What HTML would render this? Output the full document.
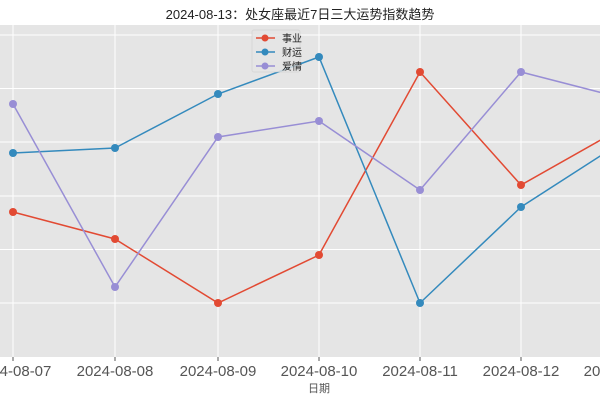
<!DOCTYPE html>
<html><head><meta charset="utf-8"><style>
body{margin:0;background:#fff;}
svg text{font-family:"Liberation Sans","Noto Sans CJK SC",sans-serif;}
</style></head><body>
<svg width="600" height="400" xmlns="http://www.w3.org/2000/svg">
<rect x="0" y="0" width="600" height="400" fill="#fff"/>
<rect x="0" y="25" width="600" height="332" fill="#E5E5E5"/>
<g stroke="#fff" stroke-width="1">
<line x1="13" y1="25" x2="13" y2="357"/><line x1="115" y1="25" x2="115" y2="357"/>
<line x1="218" y1="25" x2="218" y2="357"/><line x1="319" y1="25" x2="319" y2="357"/>
<line x1="420" y1="25" x2="420" y2="357"/><line x1="521" y1="25" x2="521" y2="357"/>
<line x1="0" y1="35" x2="600" y2="35"/><line x1="0" y1="88.5" x2="600" y2="88.5"/>
<line x1="0" y1="142" x2="600" y2="142"/><line x1="0" y1="196" x2="600" y2="196"/>
<line x1="0" y1="249.5" x2="600" y2="249.5"/><line x1="0" y1="303" x2="600" y2="303"/>
</g>
<g stroke="#555" stroke-width="1">
<line x1="13" y1="357" x2="13" y2="361"/><line x1="115" y1="357" x2="115" y2="361"/>
<line x1="218" y1="357" x2="218" y2="361"/><line x1="319" y1="357" x2="319" y2="361"/>
<line x1="420" y1="357" x2="420" y2="361"/><line x1="521" y1="357" x2="521" y2="361"/>
</g>
<g fill="none" stroke-width="1.5">
<polyline stroke="#E24A33" points="13,212 115,239 218,303 319,255 420,72 521,185 622,128"/>
<polyline stroke="#348ABD" points="13,153 115,148 218,94 319,57 420,303 521,207 622,142"/>
<polyline stroke="#988ED5" points="13,104 115,287 218,137 319,121 420,190 521,72 622,98"/>
</g>
<g fill="#E24A33"><circle cx="13" cy="212" r="4"/><circle cx="115" cy="239" r="4"/><circle cx="218" cy="303" r="4"/><circle cx="319" cy="255" r="4"/><circle cx="420" cy="72" r="4"/><circle cx="521" cy="185" r="4"/></g>
<g fill="#348ABD"><circle cx="13" cy="153" r="4"/><circle cx="115" cy="148" r="4"/><circle cx="218" cy="94" r="4"/><circle cx="319" cy="57" r="4"/><circle cx="420" cy="303" r="4"/><circle cx="521" cy="207" r="4"/></g>
<g fill="#988ED5"><circle cx="13" cy="104" r="4"/><circle cx="115" cy="287" r="4"/><circle cx="218" cy="137" r="4"/><circle cx="319" cy="121" r="4"/><circle cx="420" cy="190" r="4"/><circle cx="521" cy="72" r="4"/></g>
<rect x="252" y="30" width="48" height="42" fill="#E5E5E5" fill-opacity="0.8" stroke="#ccc" stroke-opacity="0.5" rx="2"/>
<g stroke-width="1.5">
<line x1="256" y1="38" x2="275" y2="38" stroke="#E24A33"/><circle cx="265" cy="38" r="3.5" fill="#E24A33"/>
<line x1="256" y1="52" x2="275" y2="52" stroke="#348ABD"/><circle cx="265" cy="52" r="3.5" fill="#348ABD"/>
<line x1="256" y1="66" x2="275" y2="66" stroke="#988ED5"/><circle cx="265" cy="66" r="3.5" fill="#988ED5"/>
</g>
<g font-size="10" fill="#222"><text x="282" y="42">事业</text><text x="282" y="56">财运</text><text x="282" y="70">爱情</text></g>
<text x="300" y="19" font-size="13" text-anchor="middle" fill="#222">2024-08-13：处女座最近7日三大运势指数趋势</text>
<g font-size="15" fill="#555" text-anchor="middle">
<text x="13" y="376">2024-08-07</text><text x="115" y="376">2024-08-08</text><text x="218" y="376">2024-08-09</text>
<text x="319" y="376">2024-08-10</text><text x="420" y="376">2024-08-11</text><text x="521" y="376">2024-08-12</text><text x="622" y="376">2024-08-13</text>
</g>
<text x="319" y="392" font-size="11" fill="#555" text-anchor="middle">日期</text>
</svg>
</body></html>
